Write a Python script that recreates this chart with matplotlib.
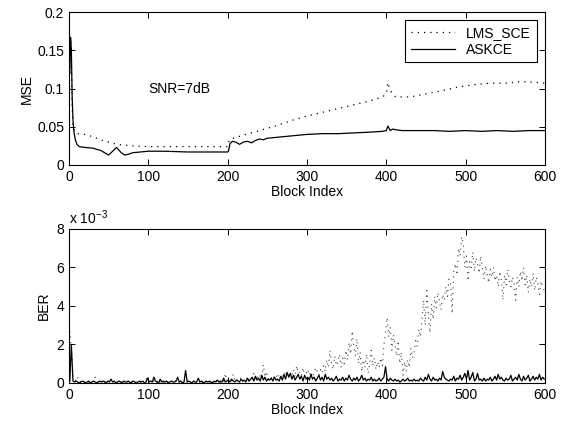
import numpy as np
import matplotlib
matplotlib.use('Agg')
import matplotlib.pyplot as plt
from matplotlib.ticker import FuncFormatter

plt.rcParams['font.family'] = ['Liberation Sans', 'DejaVu Sans']
plt.rcParams['mathtext.fontset'] = 'custom'
plt.rcParams['mathtext.rm'] = 'Liberation Sans'
plt.rcParams['font.size'] = 10

# ---- top panel: MSE vs block index ----
askce_mse_blk = [1, 2, 3, 4, 5, 6, 8, 10, 13, 20, 30, 40, 45, 50, 55, 60, 65, 70, 75, 80,
                 90, 100, 120, 150, 180, 200, 201, 203, 206, 210, 215, 220, 225, 230, 235,
                 240, 245, 250, 260, 270, 280, 290, 300, 320, 340, 360, 380, 395, 400, 402,
                 405, 408, 412, 420, 440, 460, 480, 500, 520, 540, 560, 580, 600]
askce_mse = [0.12, 0.167, 0.15, 0.09, 0.06, 0.045, 0.033, 0.027, 0.024, 0.023, 0.022, 0.019,
             0.016, 0.013, 0.018, 0.023, 0.017, 0.013, 0.014, 0.016, 0.017, 0.018, 0.018,
             0.017, 0.017, 0.017, 0.018, 0.028, 0.031, 0.030, 0.027, 0.030, 0.031, 0.029,
             0.032, 0.034, 0.033, 0.035, 0.036, 0.037, 0.038, 0.039, 0.040, 0.041, 0.041,
             0.042, 0.043, 0.044, 0.045, 0.051, 0.045, 0.047, 0.046, 0.045, 0.045, 0.045,
             0.044, 0.045, 0.044, 0.045, 0.044, 0.045, 0.045]

lms_mse_blk = [1, 2, 3, 4, 5, 8, 10, 20, 30, 40, 50, 60, 70, 80, 100, 150, 200, 202, 210,
               220, 240, 260, 280, 300, 320, 340, 360, 380, 395, 400, 402, 404, 408, 412,
               430, 450, 470, 490, 510, 530, 550, 570, 590, 600]
lms_mse = [0.12, 0.165, 0.14, 0.08, 0.05, 0.043, 0.041, 0.040, 0.037, 0.033, 0.030, 0.027,
           0.026, 0.025, 0.024, 0.024, 0.024, 0.033, 0.036, 0.039, 0.045, 0.051, 0.058,
           0.064, 0.069, 0.074, 0.079, 0.084, 0.089, 0.093, 0.108, 0.100, 0.092, 0.089,
           0.089, 0.093, 0.097, 0.102, 0.105, 0.107, 0.107, 0.109, 0.108, 0.107]

# ---- bottom panel: BER (x 1e-3), every second block 1, 3, ..., 599 ----
ber_blk = list(range(1, 600, 2))
lms_ber = [
    2.7, 1.8, 0.3, 0.2, 0.1, 0.3, 0.05, 0.1, 0.0, 0.05, 0.1, 0.0, 0.05, 0.0, 0.1, 0.05, 0.3, 0.0, 0.05, 0.1,
    0.0, 0.05, 0.1, 0.0, 0.0, 0.1, 0.05, 0.0, 0.1, 0.0, 0.05, 0.1, 0.0, 0.2, 0.05, 0.0, 0.1, 0.05, 0.0, 0.05,
    0.1, 0.0, 0.05, 0.1, 0.0, 0.05, 0.1, 0.0, 0.25, 0.05, 0.1, 0.0, 0.05, 0.1, 0.0, 0.05, 0.2, 0.0, 0.1, 0.05,
    0.0, 0.1, 0.05, 0.0, 0.1, 0.05, 0.0, 0.15, 0.0, 0.05, 0.1, 0.0, 0.05, 0.1, 0.0, 0.1, 0.05, 0.0, 0.1, 0.05,
    0.0, 0.1, 0.05, 0.2, 0.0, 0.1, 0.05, 0.1, 0.0, 0.15, 0.05, 0.1, 0.2, 0.05, 0.1, 0.0, 0.15, 0.1, 0.5, 0.1,
    0.2, 0.1, 0.15, 0.45, 0.1, 0.2, 0.1, 0.15, 0.3, 0.1, 0.2, 0.15, 0.3, 0.1, 0.25, 0.2, 0.5, 0.15, 0.3, 0.2,
    0.4, 0.25, 0.95, 0.3, 0.6, 0.2, 0.35, 0.3, 0.15, 0.4, 0.3, 0.5, 0.2, 0.35, 0.45, 0.3, 0.6, 0.4, 0.3, 0.5,
    0.4, 0.7, 0.3, 0.9, 0.5, 0.6, 0.4, 0.8, 0.3, 0.5, 0.7, 0.4, 0.6, 0.3, 0.5, 0.8, 0.6, 0.4, 0.7, 0.5,
    0.9, 0.6, 1.2, 0.8, 1.7, 1.0, 0.7, 1.4, 0.9, 1.1, 1.5, 0.8, 1.3, 1.0, 1.7, 1.2, 2.1, 1.5, 2.7, 1.9,
    1.4, 2.3, 1.0, 1.6, 0.6, 1.2, 0.8, 1.5, 0.5, 1.0, 1.7, 0.9, 1.3, 0.7, 1.1, 0.8, 1.3, 0.9, 2.0, 2.6,
    3.4, 2.4, 2.9, 1.7, 2.5, 2.0, 1.4, 2.2, 1.0, 1.6, 0.4, 1.1, 0.6, 1.2, 0.8, 1.8, 1.3, 1.6, 2.2, 1.9,
    2.8, 2.4, 3.3, 4.3, 3.0, 4.8, 3.6, 2.6, 4.1, 3.3, 4.5, 3.9, 4.7, 4.2, 3.8, 4.6, 4.3, 5.0, 4.5, 5.4,
    5.2, 3.6, 5.8, 6.2, 5.6, 7.0, 6.6, 7.6, 7.2, 6.0, 6.6, 5.3, 6.3, 6.0, 6.8, 5.8, 6.5, 6.2, 5.7, 6.6,
    6.0, 5.4, 6.1, 5.7, 5.2, 5.9, 5.5, 6.0, 5.3, 5.6, 5.0, 5.8, 5.4, 4.3, 5.6, 5.1, 5.9, 5.3, 5.0, 5.5,
    5.2, 4.3, 5.5, 5.0, 5.8, 5.3, 6.0, 5.1, 5.6, 4.7, 5.4, 5.0, 5.7, 4.8, 5.5, 5.2, 4.6, 5.3, 5.0, 4.8,
]
askce_ber = [
    0.1, 2.0, 0.1, 0.05, 0.1, 0.05, 0.0, 0.05, 0.1, 0.05, 0.0, 0.05, 0.1, 0.0, 0.05, 0.1, 0.05, 0.0, 0.05, 0.1,
    0.05, 0.1, 0.05, 0.0, 0.1, 0.05, 0.2, 0.05, 0.1, 0.0, 0.05, 0.1, 0.05, 0.0, 0.1, 0.05, 0.05, 0.1, 0.0, 0.05,
    0.1, 0.05, 0.0, 0.05, 0.1, 0.05, 0.1, 0.0, 0.05, 0.25, 0.05, 0.1, 0.05, 0.3, 0.1, 0.05, 0.0, 0.2, 0.05, 0.1,
    0.05, 0.1, 0.0, 0.05, 0.1, 0.05, 0.05, 0.1, 0.3, 0.05, 0.1, 0.0, 0.05, 0.65, 0.05, 0.1, 0.05, 0.0, 0.1, 0.05,
    0.05, 0.25, 0.05, 0.1, 0.0, 0.05, 0.1, 0.05, 0.1, 0.05, 0.0, 0.1, 0.05, 0.15, 0.05, 0.1, 0.05, 0.25, 0.05, 0.1,
    0.15, 0.05, 0.2, 0.1, 0.05, 0.15, 0.1, 0.05, 0.2, 0.1, 0.15, 0.05, 0.25, 0.1, 0.2, 0.3, 0.1, 0.35, 0.15, 0.25,
    0.1, 0.4, 0.15, 0.3, 0.1, 0.2, 0.15, 0.25, 0.1, 0.3, 0.15, 0.2, 0.1, 0.35, 0.15, 0.45, 0.2, 0.55, 0.3, 0.5,
    0.2, 0.4, 0.15, 0.3, 0.45, 0.2, 0.35, 0.1, 0.4, 0.2, 0.3, 0.15, 0.45, 0.2, 0.3, 0.1, 0.25, 0.4, 0.15, 0.3,
    0.1, 0.45, 0.2, 0.3, 0.15, 0.25, 0.1, 0.2, 0.35, 0.1, 0.2, 0.15, 0.3, 0.1, 0.25, 0.15, 0.4, 0.2, 0.1, 0.25,
    0.15, 0.3, 0.1, 0.2, 0.4, 0.15, 0.25, 0.1, 0.2, 0.15, 0.3, 0.1, 0.2, 0.1, 0.15, 0.25, 0.1, 0.2, 0.3, 0.85,
    0.2, 0.1, 0.25, 0.15, 0.1, 0.2, 0.1, 0.15, 0.05, 0.1, 0.2, 0.1, 0.15, 0.25, 0.1, 0.15, 0.1, 0.2, 0.1, 0.15,
    0.1, 0.25, 0.15, 0.1, 0.3, 0.15, 0.45, 0.2, 0.1, 0.3, 0.15, 0.2, 0.1, 0.25, 0.15, 0.6, 0.3, 0.2, 0.15, 0.1,
    0.2, 0.15, 0.35, 0.1, 0.25, 0.2, 0.4, 0.15, 0.3, 0.5, 0.2, 0.65, 0.15, 0.3, 0.55, 0.1, 0.2, 0.5, 0.15, 0.2,
    0.1, 0.25, 0.1, 0.2, 0.15, 0.3, 0.1, 0.2, 0.35, 0.15, 0.45, 0.2, 0.3, 0.15, 0.1, 0.25, 0.15, 0.2, 0.4, 0.1,
    0.2, 0.3, 0.15, 0.45, 0.2, 0.1, 0.35, 0.15, 0.25, 0.4, 0.1, 0.2, 0.35, 0.15, 0.3, 0.2, 0.45, 0.15, 0.3, 0.2,
]

dotted = (0, (1, 4))

fig = plt.figure(figsize=(5.64, 4.26), dpi=100)
ax1 = fig.add_axes([0.1223, 0.6127, 0.844, 0.359])
ax2 = fig.add_axes([0.1223, 0.101, 0.844, 0.3615])

ax1.plot(lms_mse_blk, lms_mse, color='black', linestyle=dotted, lw=0.9, label='LMS_SCE')
ax1.plot(askce_mse_blk, askce_mse, color='black', lw=0.9, label='ASKCE')
ax1.set_xlim(0, 600)
ax1.set_ylim(0, 0.2)
ax1.set_yticks([0, 0.05, 0.1, 0.15, 0.2])
ax1.yaxis.set_major_formatter(FuncFormatter(lambda v, p: '%g' % v))
ax1.set_ylabel('MSE', labelpad=2)
ax1.set_xlabel('Block Index', labelpad=1)
ax1.text(100, 0.1, 'SNR=7dB', ha='left', va='center')
leg = ax1.legend(loc='upper right', fancybox=False, edgecolor='black', framealpha=1,
                 handlelength=3.2, borderaxespad=0.6, labelspacing=0.2)
leg.get_frame().set_linewidth(0.8)

ax2.plot(ber_blk, lms_ber, color='0.25', linestyle=dotted, lw=0.8)
ax2.plot(ber_blk, askce_ber, color='black', lw=0.9)
ax2.set_xlim(0, 600)
ax2.set_ylim(0, 8)
ax2.set_yticks([0, 2, 4, 6, 8])
ax2.set_ylabel('BER', labelpad=4)
ax2.set_xlabel('Block Index', labelpad=1)
ax2.text(0, 1.015, r'x 10$^{-3}$', transform=ax2.transAxes, ha='left', va='bottom')

for ax in (ax1, ax2):
    ax.set_xticks([0, 100, 200, 300, 400, 500, 600])
    ax.tick_params(direction='in', top=True, right=True, length=4, width=0.7)
    for s in ax.spines.values():
        s.set_linewidth(0.8)

fig.savefig('out.png', dpi=100)
